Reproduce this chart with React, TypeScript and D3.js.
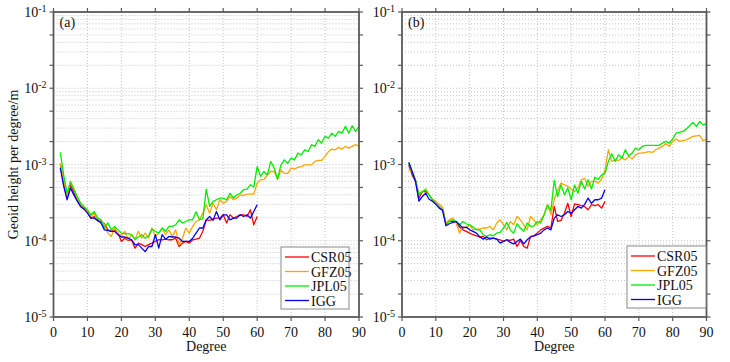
import React, { useEffect, useRef } from 'react';
import * as d3 from 'd3';

// geoid height per degree, in units of 1e-4 m
// CSR05 / IGG: degree 2..60, GFZ05 / JPL05: degree 2..90
const csrA = [
  10.2, 5.7, 3.6, 5.4, 4.3, 3.45, 2.9, 2.68, 2.42, 1.98, 2.08, 1.88, 1.79, 1.67, 1.39, 1.33, 1.39, 1.26, 0.98, 1.08,
  1.01, 1.03, 0.8, 0.93, 0.89, 0.84, 0.89, 0.93,
  0.98, 1.03, 1.03, 1.05, 1.03, 1.03, 1.08, 0.84, 0.93, 0.98, 0.93, 1.03, 1.05, 1.08,
  1.33, 1.88, 1.85, 1.92, 1.98, 1.98, 2.19, 1.71, 2.19, 1.98, 2.08, 2.19, 2.19, 2.08, 2.55, 1.62, 2.08,
];
const iggA = [
  9.0, 5.2, 3.45, 4.9, 4.0, 3.3, 2.8, 2.6, 2.3, 1.98, 1.98, 1.85, 1.71, 1.39, 1.37, 1.33, 1.33, 1.2, 1.12, 1.12,
  1.08, 1.03, 0.89, 0.89, 0.8, 0.72, 0.84, 0.84,
  1.2, 0.8, 1.2, 1.05, 1.14, 1.12, 1.12, 1.08, 0.98, 0.98, 0.98, 1.08, 1.26, 1.47,
  1.47, 1.88, 2.08, 1.85, 2.42, 1.88, 2.19, 2.19, 1.88, 1.98, 1.98, 2.19, 2.08, 2.19, 1.98, 2.42, 2.97,
];
const gfzA = [
  10.4, 6.3, 3.8, 6.0, 4.8, 3.6, 3.0, 2.76, 2.42, 2.08, 2.3, 1.79, 1.88, 1.62, 1.26, 1.14, 1.47, 1.26, 1.16, 1.33,
  1.03, 1.2, 1.03, 1.33, 1.08, 1.26, 1.08, 1.47,
  1.14, 1.26, 1.47, 1.2, 1.39, 1.14, 1.39, 0.89, 1.08, 1.47, 1.26, 1.54, 1.79, 1.88,
  2.3, 2.97, 2.3, 3.1, 2.55, 3.45, 3.1, 3.28, 3.8, 3.45, 3.63, 4.0, 3.9, 4.1, 4.1, 4.1, 5.7,
  6.3, 6.4, 7.3, 8.1, 8.1, 6.4, 8.4, 7.7, 7.6, 9.0, 8.7, 9.2, 9.4, 9.9, 9.9, 9.9, 11.0, 11.3, 11.3, 12.8,
  14.8, 15.9, 15.6, 16.8, 15.9, 17.3, 16.4, 17.3, 18.2, 17.3,
];
const jplA = [
  14.4, 7.3, 4.2, 5.9, 4.7, 3.8, 3.1, 2.8, 2.55, 2.19, 2.42, 1.98, 1.88, 1.47, 1.71, 1.39, 1.54, 1.39, 1.26, 1.24,
  1.24, 1.2, 1.05, 1.12, 1.2, 1.08, 1.16, 1.42,
  1.33, 1.26, 1.47, 1.33, 1.54, 1.54, 1.62, 1.88, 1.71, 1.79, 1.88, 1.88, 2.4, 1.9,
  1.95, 4.76, 2.82, 3.28, 3.45, 3.63, 3.63, 3.45, 4.2, 3.63, 4.01, 4.2, 4.67, 4.76, 5.42, 5.06, 9.4,
  7.0, 8.1, 7.3, 11.0, 9.0, 6.4, 9.9, 11.5, 10.4, 12.1, 11.5, 14.1, 13.4, 15.6, 14.8, 18.2, 17.3, 21.1, 19.1, 23.4,
  22.2, 25.8, 23.4, 27.2, 25.8, 31.6, 25.8, 32.2, 27.2, 31.6,
];

const csrB = [
  9.9, 7.3, 6.0, 3.6, 4.4, 4.4, 4.0, 3.45, 3.1, 2.8, 2.55, 1.67, 1.79, 1.79, 1.74, 1.51, 1.39, 1.33, 1.26, 1.2,
  1.16, 1.12, 1.14, 1.03, 1.08, 1.08, 1.05, 1.03,
  0.98, 1.03, 1.01, 1.05, 0.84, 1.01, 0.84, 0.8, 1.14, 1.16, 1.26, 1.39, 1.47, 1.54,
  1.47, 2.82, 1.79, 1.85, 2.3, 3.1, 2.08, 3.05, 2.97, 2.88, 2.8, 2.55, 2.97, 2.88, 2.97, 2.68, 3.28,
];
const iggB = [
  10.6, 8.1, 6.0, 3.3, 3.8, 4.2, 3.5, 3.3, 3.0, 2.68, 2.5, 1.57, 1.67, 1.74, 1.79, 1.62, 1.47, 1.51, 1.39, 1.33,
  1.26, 1.12, 1.05, 1.12, 1.05, 1.08, 1.05, 0.93,
  0.98, 1.03, 0.95, 0.91, 0.98, 1.05, 0.91, 1.03, 1.12, 1.16, 1.2, 1.26, 1.39, 1.47,
  1.39, 1.98, 2.19, 2.08, 2.19, 2.42, 2.3, 2.55, 2.82, 2.68, 3.0, 3.63, 3.1, 3.45, 3.45, 3.63, 4.67,
];
const gfzB = [
  8.5, 8.1, 6.3, 4.2, 4.4, 4.8, 4.0, 3.5, 3.3, 3.0, 2.76, 1.71, 1.88, 1.98, 1.71, 1.26, 1.54, 1.47, 1.62, 1.39,
  1.42, 1.42, 1.47, 1.47, 1.54, 1.39, 1.71, 1.88,
  1.62, 1.39, 1.79, 1.62, 2.08, 1.88, 1.62, 1.39, 2.08, 1.88, 1.62, 1.88, 2.19, 3.0,
  2.2, 3.45, 4.6, 5.7, 5.4, 5.2, 4.76, 4.4, 4.9, 6.3, 6.6, 5.2, 6.0, 6.0, 5.7, 6.4, 8.5,
  15.6, 11.0, 11.5, 11.3, 12.1, 11.5, 12.8, 11.8, 13.4, 14.1, 14.1, 14.4, 14.8, 14.4, 15.6, 16.4, 17.3, 18.7, 17.3, 20.1,
  21.6, 20.1, 20.6, 21.1, 22.2, 23.4, 23.8, 24.1, 20.6, 21.6,
];
const jplB = [
  10.6, 8.1, 6.2, 4.0, 4.4, 4.6, 4.0, 3.45, 3.1, 2.8, 2.55, 1.62, 1.79, 1.88, 1.79, 1.62, 1.79, 1.67, 1.62, 1.51,
  1.39, 1.39, 1.2, 1.14, 1.2, 1.16, 1.26, 1.29,
  1.47, 1.74, 1.39, 1.26, 1.67, 1.47, 1.33, 1.71, 1.54, 1.57, 1.79, 1.71, 2.2, 2.9,
  2.5, 6.2, 3.8, 5.4, 4.0, 4.9, 3.45, 5.4, 4.2, 6.0, 4.76, 6.3, 4.76, 6.8, 6.4, 7.3, 7.7,
  11.0, 13.8, 11.0, 13.4, 12.1, 15.6, 13.0, 14.1, 16.4, 15.6, 17.3, 17.8, 17.8, 17.8, 17.8, 17.8, 19.1, 20.1, 19.1, 21.6,
  25.8, 26.3, 27.2, 29.1, 32.2, 35.7, 31.6, 36.7, 33.1, 34.3,
];

const seriesNames = ['CSR05', 'GFZ05', 'JPL05', 'IGG'];
const seriesColors = ['#ff0000', '#ffa500', '#00ee00', '#0000ff'];
const xTicks = [0, 10, 20, 30, 40, 50, 60, 70, 80, 90];
const yExponents = [-5, -4, -3, -2, -1];

const App = () => {
  const ref = useRef<SVGSVGElement>(null);

  useEffect(() => {
    const svg = d3.select(ref.current);
    svg.selectAll('*').remove();

    const font = "'Liberation Serif', 'Times New Roman', serif";
    const fs = 14;
    const top = 12;
    const bottom = 317;
    const axisColor = '#5a5a5a';

    const y = d3.scaleLog().domain([1e-5, 1e-1]).range([bottom, top]);

    // grid values 1..9 x 10^e
    const gridVals: number[] = [];
    yExponents.slice(0, -1).forEach(e => d3.range(1, 10).forEach(k => gridVals.push(k * Math.pow(10, e))));
    const tickVals: number[] = [];
    yExponents.slice(0, -1).forEach(e => [1, 2, 5].forEach(k => tickVals.push(k * Math.pow(10, e))));
    tickVals.push(1e-1);

    const panels = [
      { left: 53.5, right: 359, label: '(a)', data: [csrA, gfzA, jplA, iggA], lg: { x: 281, y: 247, w: 68 }, yTitle: true },
      { left: 402, right: 706.5, label: '(b)', data: [csrB, gfzB, jplB, iggB], lg: { x: 627, y: 246, w: 79 }, yTitle: false },
    ];

    panels.forEach(p => {
      const x = d3.scaleLinear().domain([0, 90]).range([p.left, p.right]);
      const g = svg.append('g');

      // grid
      g.selectAll('.hg')
        .data(gridVals)
        .enter()
        .append('line')
        .attr('x1', p.left)
        .attr('x2', p.right)
        .attr('y1', d => y(d))
        .attr('y2', d => y(d))
        .attr('stroke', '#c4c4c4')
        .attr('stroke-width', 1)
        .attr('stroke-dasharray', '1,2');

      g.selectAll('.vg')
        .data(xTicks.slice(1, -1))
        .enter()
        .append('line')
        .attr('x1', d => x(d))
        .attr('x2', d => x(d))
        .attr('y1', top)
        .attr('y2', bottom)
        .attr('stroke', '#c4c4c4')
        .attr('stroke-width', 1)
        .attr('stroke-dasharray', '1,2');

      // series
      p.data.forEach((vals, si) => {
        const line = d3.line<number>()
          .x((d, i) => x(i + 2))
          .y(d => y(d * 1e-4));
        g.append('path')
          .datum(vals)
          .attr('d', line)
          .attr('fill', 'none')
          .attr('stroke', seriesColors[si])
          .attr('stroke-width', 1.3)
          .attr('stroke-linejoin', 'round');
      });

      // frame
      g.append('rect')
        .attr('x', p.left)
        .attr('y', top)
        .attr('width', p.right - p.left)
        .attr('height', bottom - top)
        .attr('fill', 'none')
        .attr('stroke', axisColor)
        .attr('stroke-width', 1.8);

      // x ticks top/bottom, outward
      xTicks.forEach(t => {
        g.append('line').attr('x1', x(t)).attr('x2', x(t)).attr('y1', top - 4).attr('y2', top)
          .attr('stroke', axisColor).attr('stroke-width', 1.2);
        g.append('line').attr('x1', x(t)).attr('x2', x(t)).attr('y1', bottom).attr('y2', bottom + 4)
          .attr('stroke', axisColor).attr('stroke-width', 1.2);
        g.append('text')
          .attr('x', x(t))
          .attr('y', 337)
          .attr('text-anchor', 'middle')
          .attr('font-family', font)
          .attr('font-size', fs)
          .attr('fill', '#111')
          .text(t);
      });

      // y ticks left/right, outward
      tickVals.forEach(v => {
        g.append('line').attr('x1', p.left - 4).attr('x2', p.left).attr('y1', y(v)).attr('y2', y(v))
          .attr('stroke', axisColor).attr('stroke-width', 1.2);
        g.append('line').attr('x1', p.right).attr('x2', p.right + 4).attr('y1', y(v)).attr('y2', y(v))
          .attr('stroke', axisColor).attr('stroke-width', 1.2);
      });

      yExponents.forEach(e => {
        const t = g.append('text')
          .attr('x', p.left - 7)
          .attr('y', y(Math.pow(10, e)) + 5)
          .attr('text-anchor', 'end')
          .attr('font-family', font)
          .attr('font-size', fs)
          .attr('fill', '#111');
        t.append('tspan').text('10');
        t.append('tspan').attr('dy', -5).attr('font-size', 10).text(String(e));
      });

      // panel label
      g.append('text')
        .attr('x', p.left + 6)
        .attr('y', 27)
        .attr('font-family', font)
        .attr('font-size', fs)
        .attr('fill', '#111')
        .text(p.label);

      // x title
      g.append('text')
        .attr('x', (p.left + p.right) / 2)
        .attr('y', 351)
        .attr('text-anchor', 'middle')
        .attr('font-family', font)
        .attr('font-size', fs)
        .attr('fill', '#111')
        .text('Degree');

      if (p.yTitle) {
        g.append('text')
          .attr('transform', `translate(18, ${(top + bottom) / 2}) rotate(-90)`)
          .attr('text-anchor', 'middle')
          .attr('font-family', font)
          .attr('font-size', fs)
          .attr('fill', '#111')
          .text('Geoid height per degree/m');
      }

      // legend
      const lg = g.append('g');
      lg.append('rect')
        .attr('x', p.lg.x)
        .attr('y', p.lg.y)
        .attr('width', p.lg.w)
        .attr('height', 62)
        .attr('fill', '#fff')
        .attr('stroke', '#888')
        .attr('stroke-width', 1);
      seriesNames.forEach((name, i) => {
        const yy = p.lg.y + 10 + i * 14.5;
        lg.append('line')
          .attr('x1', p.lg.x + 4)
          .attr('x2', p.lg.x + 28)
          .attr('y1', yy)
          .attr('y2', yy)
          .attr('stroke', seriesColors[i])
          .attr('stroke-width', 1.3);
        lg.append('text')
          .attr('x', p.lg.x + 30)
          .attr('y', yy + 5)
          .attr('font-family', font)
          .attr('font-size', fs)
          .attr('fill', '#111')
          .text(name);
      });
    });
  }, []);

  return (
    <svg
      ref={ref}
      width={730}
      height={362}
      style={{ position: 'absolute', left: 0, top: 0, background: '#fff' }}
    />
  );
};

export default App;
